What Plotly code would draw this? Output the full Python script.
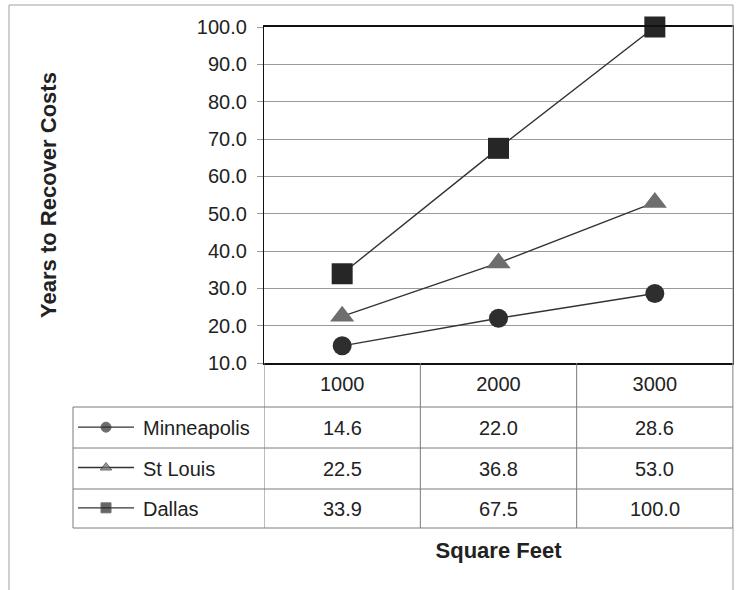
import plotly.graph_objects as go

categories = ["1000", "2000", "3000"]
series_names = ["Minneapolis", "St Louis", "Dallas"]
minneapolis = [14.6, 22.0, 28.6]
st_louis = [22.5, 36.8, 53.0]
dallas = [33.9, 67.5, 100.0]
y_ticks = [10, 20, 30, 40, 50, 60, 70, 80, 90, 100]

series_values = [minneapolis, st_louis, dallas]
symbols = ["circle", "triangle-up", "square"]
colors = ["#2e2e2e", "#6e6e6e", "#262626"]
sizes = [19, 21, 21]
key_sizes = [10, 10, 10]

W, H = 738, 590
def px(x):
    return x / W
def py(y):
    return 1 - y / H

FONT = "Liberation Sans, Arial, sans-serif"

fig = go.Figure()

for name, vals, sym, col, sz in zip(series_names, series_values, symbols, colors, sizes):
    fig.add_trace(go.Scatter(
        x=categories, y=vals, mode="lines+markers", name=name,
        line=dict(color="#333333", width=1.4),
        marker=dict(symbol=sym, size=sz, color=col),
        cliponaxis=False, showlegend=False,
        xaxis="x", yaxis="y"))

# legend keys inside the data table
n = len(series_names)
for i, (name, sym, col, ks) in enumerate(zip(series_names, symbols, colors, key_sizes)):
    row = n - 0.5 - i
    fig.add_trace(go.Scatter(
        x=[0, 0.5, 1], y=[row, row, row], mode="lines+markers",
        line=dict(color="#333333", width=1.4),
        marker=dict(symbol=sym, size=[0, ks, 0], color=col),
        showlegend=False, hoverinfo="skip", cliponaxis=False,
        xaxis="x2", yaxis="y2"))

plot_top, plot_bot, plot_left, plot_right = 27, 363, 264, 733
row_lines = [407, 448, 489, 528]
table_left = 73

fig.update_layout(
    width=W, height=H,
    margin=dict(l=0, r=0, t=0, b=0, autoexpand=False),
    paper_bgcolor="white", plot_bgcolor="white",
    font=dict(family=FONT, color="#222222", size=20),
    xaxis=dict(
        domain=[px(plot_left), px(plot_right)],
        type="category", range=[-0.5, 2.5], automargin=False,
        showgrid=False, ticks="", showline=True, linecolor="#111111", linewidth=1.5,
        mirror=True, tickfont=dict(size=20, family=FONT, color="#222222"),
        ticklabelstandoff=2,
        title=dict(text="<b>Square Feet</b>", font=dict(size=22, family=FONT, color="#222222"),
                   standoff=149),
        anchor="y",
    ),
    yaxis=dict(
        domain=[py(plot_bot), py(plot_top)],
        range=[10, 100], tickvals=y_ticks, tickformat=".1f", automargin=False,
        showgrid=True, gridcolor="#9a9a9a", gridwidth=1,
        ticks="outside", ticklen=6, tickcolor="#9a9a9a",
        showline=True, linecolor="#111111", linewidth=1.2, mirror=True,
        tickfont=dict(size=20, family=FONT, color="#222222"),
        ticklabelstandoff=6,
        title=dict(text="<b>Years to Recover Costs</b>", font=dict(size=22, family=FONT, color="#222222"),
                   standoff=134),
        zeroline=False, anchor="x",
    ),
    xaxis2=dict(domain=[px(78), px(134)], range=[0, 1], visible=False, anchor="y2", fixedrange=True, automargin=False),
    yaxis2=dict(domain=[py(row_lines[-1]), py(row_lines[0])], range=[0, n], visible=False, anchor="x2", fixedrange=True, automargin=False),
)

shapes = []
line_col = "#7a7a7a"
# horizontal table lines
for yv in row_lines:
    shapes.append(dict(type="line", xref="paper", yref="paper", x0=px(table_left), x1=px(plot_right),
                       y0=py(yv), y1=py(yv), line=dict(color=line_col, width=1)))
# left edge of table
shapes.append(dict(type="line", xref="paper", yref="paper", x0=px(table_left), x1=px(table_left),
                   y0=py(row_lines[0]), y1=py(row_lines[-1]), line=dict(color=line_col, width=1)))
# column boundaries (category axis edges)
for xv in [-0.5, 0.5, 1.5, 2.5]:
    shapes.append(dict(type="line", xref="x", yref="paper", x0=xv, x1=xv,
                       y0=py(plot_bot), y1=py(row_lines[-1]), line=dict(color=line_col, width=1)))
# outer chart frame
frame_col = "#a0a0a0"
shapes.append(dict(type="line", xref="paper", yref="paper", x0=px(9), x1=px(plot_right), y0=py(5), y1=py(5),
                   line=dict(color=frame_col, width=1)))
shapes.append(dict(type="line", xref="paper", yref="paper", x0=px(9), x1=px(9), y0=py(5), y1=0,
                   line=dict(color=frame_col, width=1)))
shapes.append(dict(type="line", xref="paper", yref="paper", x0=px(plot_right), x1=px(plot_right), y0=py(5), y1=0,
                   line=dict(color=frame_col, width=1)))
fig.update_layout(shapes=shapes)

annotations = []
for i, (name, vals) in enumerate(zip(series_names, series_values)):
    yc = py((row_lines[i] + row_lines[i + 1]) / 2)
    annotations.append(dict(x=px(141), y=yc, xref="paper", yref="paper", text=name, showarrow=False,
                            xanchor="left", yanchor="middle", font=dict(size=20, family=FONT, color="#222222")))
    for j, v in enumerate(vals):
        annotations.append(dict(x=j, y=yc, xref="x", yref="paper", text=f"{v:.1f}", showarrow=False,
                                xanchor="center", yanchor="middle", font=dict(size=20, family=FONT, color="#222222")))
fig.update_layout(annotations=annotations)

fig.write_html("out.html", config={"displayModeBar": False},
               post_script="document.body.style.margin='0';document.body.style.overflow='hidden';")
